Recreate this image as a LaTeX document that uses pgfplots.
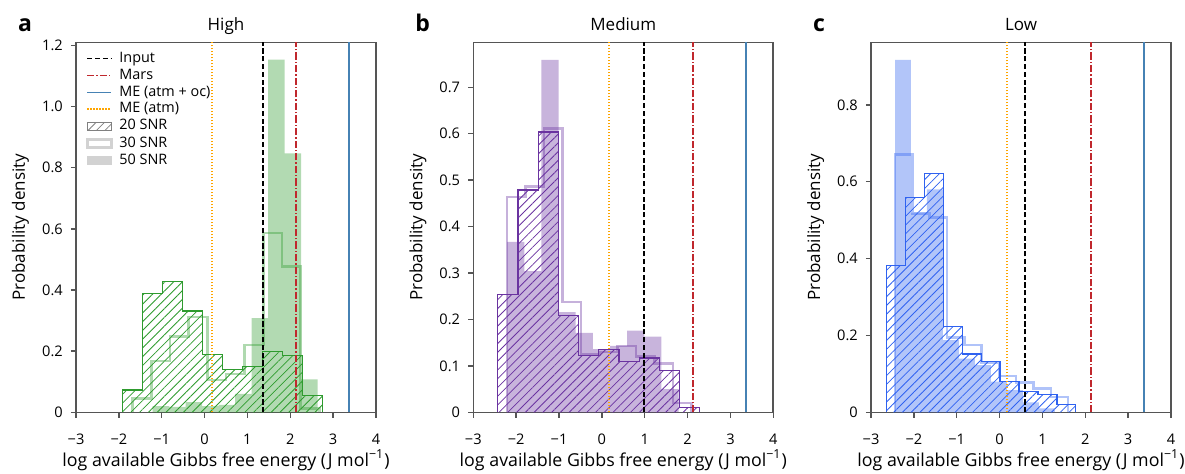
\documentclass[border=0pt]{standalone}
\usepackage{fontspec}
\setmainfont{Open Sans}
\usepackage{pgfplots}
\pgfplotsset{compat=1.18}
\usetikzlibrary{patterns.meta}

\definecolor{cgreen}{HTML}{2E9B2E}
\definecolor{cpurple}{HTML}{6A33A0}
\definecolor{cblue}{HTML}{2F62F0}
\definecolor{cmars}{HTML}{C0282D}
\definecolor{cmeoc}{HTML}{4682B4}
\definecolor{cmeatm}{HTML}{FFA500}
\definecolor{framec}{HTML}{555555}

\newcommand{\lblfont}{\fontsize{8.5}{9.5}\selectfont}
\newcommand{\xlblfont}{\fontsize{8.9}{9.5}\selectfont}
\newcommand{\tckfont}{\fontsize{7.3}{8.5}\selectfont}

\tikzset{
  vinput/.style={draw=black, line width=0.8pt, dash pattern=on 2.6pt off 1.3pt},
  vmars/.style={draw=cmars, line width=0.8pt, dash pattern=on 3.6pt off 1pt on 0.7pt off 1pt},
  vmeoc/.style={draw=cmeoc, line width=0.8pt},
  vmeatm/.style={draw=cmeatm, line width=0.9pt, dash pattern=on 0.75pt off 0.75pt},
}

\pgfplotsset{
  panel/.style={
    scale only axis, width=150pt, height=185pt,
    xmin=-3, xmax=4, ymin=0,
    xtick={-3,-2,-1,0,1,2,3,4},
    xticklabels={−3,−2,−1,0,1,2,3,4},
    axis line style={framec, line width=0.8pt},
    tick style={framec, line width=0.7pt},
    tick align=outside, xtick pos=left, ytick pos=left,
    major tick length=2.6pt,
    ticklabel style={font=\tckfont},
    xticklabel style={anchor=base, yshift=-13.6pt},
    yticklabel style={anchor=east, xshift=-0.5pt},
    xlabel={log available Gibbs free energy (J mol\textsuperscript{−1})},
    ylabel={Probability density},
    every axis x label/.style={at={(rel axis cs:0.5,0)}, anchor=base, yshift=-27pt, font=\xlblfont},
    every axis y label/.style={at={(rel axis cs:0,0.5)}, xshift=-25.5pt, rotate=90, anchor=base, font=\lblfont},
    every axis title/.style={at={(rel axis cs:0.5,1)}, anchor=base, yshift=6pt, font=\lblfont},
    clip=true, clip mode=individual,
  },
  h50/.style={const plot, draw=none, fill=#1, fill opacity=0.37, forget plot},
  h30/.style={const plot, draw=#1, draw opacity=0.38, line width=1.3pt, forget plot},
  h20/.style={const plot, draw=#1, line width=0.6pt,
    pattern={Lines[angle=45,distance=3.1pt,line width=0.4pt]}, pattern color=#1, forget plot},
}

\newcommand{\panelletter}[1]{\node[anchor=base west, font=\bfseries\fontsize{11.5}{12}\selectfont]
  at (rel axis cs:0,1) [xshift=-32.5pt, yshift=5.3pt] {#1};}

\begin{document}
\begin{tikzpicture}

% ---------------- a: High ----------------
\begin{axis}[panel, at={(0pt,0pt)}, ymax=1.21, title={High},
  ytick={0,0.2,0.4,0.6,0.8,1.0,1.2},
  yticklabels={0,0.2,0.4,0.6,0.8,1.0,1.2},
  legend style={at={(0.012,0.99)}, anchor=north west, draw=none, fill=none,
    font=\fontsize{7.2}{8}\selectfont, row sep=0.2pt,
    nodes={inner sep=0.8pt},
    /tikz/every odd column/.append style={column sep=2.6pt}},
  legend cell align=left,
]
\coordinate (oA) at (rel axis cs:0,0);
% 50 SNR
\addplot[h50=cgreen] coordinates {(-1.21,0) (-1.21,0.02) (-0.825,0.018) (-0.44,0.033) (-0.055,0.02) (0.33,0.024) (0.715,0.06) (1.10,0.308) (1.485,1.153) (1.87,0.847) (2.255,0.108) (2.64,0)};
% 30 SNR
\addplot[h30=cgreen] coordinates {(-1.68,0) (-1.68,0.045) (-1.244,0.168) (-0.808,0.248) (-0.372,0.312) (0.064,0.105) (0.50,0.125) (0.936,0.22) (1.372,0.586) (1.808,0.477) (2.244,0.012) (2.68,0)};
% 20 SNR
\addplot[h20=cgreen] coordinates {(-1.91,0) (-1.91,0.073) (-1.444,0.389) (-0.978,0.427) (-0.512,0.331) (-0.046,0.19) (0.42,0.141) (0.886,0.149) (1.352,0.198) (1.818,0.186) (2.284,0.055) (2.75,0)};
\addplot[vmeatm, forget plot] coordinates {(0.175,0) (0.175,2)};
\addplot[vinput, forget plot] coordinates {(1.37,0) (1.37,2)};
\addplot[vmars, forget plot] coordinates {(2.13,0) (2.13,2)};
\addplot[vmeoc, forget plot] coordinates {(3.365,0) (3.365,2)};
\addlegendimage{legend image code/.code={\draw[vinput] (0pt,0pt) -- (12pt,0pt);}}
\addlegendentry{Input}
\addlegendimage{legend image code/.code={\draw[vmars] (0pt,0pt) -- (12pt,0pt);}}
\addlegendentry{Mars}
\addlegendimage{legend image code/.code={\draw[vmeoc] (0pt,0pt) -- (12pt,0pt);}}
\addlegendentry{ME (atm + oc)}
\addlegendimage{legend image code/.code={\draw[vmeatm] (0pt,0pt) -- (12pt,0pt);}}
\addlegendentry{ME (atm)}
\addlegendimage{legend image code/.code={\draw[gray, line width=0.5pt, pattern={Lines[angle=45,distance=3pt,line width=0.4pt]}, pattern color=gray] (0pt,-2pt) rectangle (12pt,2pt);}}
\addlegendentry{20 SNR}
\addlegendimage{legend image code/.code={\draw[gray!35, line width=1.3pt] (0pt,-2pt) rectangle (12pt,2pt);}}
\addlegendentry{30 SNR}
\addlegendimage{legend image code/.code={\fill[gray!35] (0pt,-2.2pt) rectangle (12pt,2.2pt);}}
\addlegendentry{50 SNR}
\panelletter{a}
\end{axis}

% ---------------- b: Medium ----------------
\begin{axis}[panel, at={(198.65pt,0pt)}, ymax=0.797, title={Medium},
  ytick={0,0.1,0.2,0.3,0.4,0.5,0.6,0.7},
  yticklabels={0,0.1,0.2,0.3,0.4,0.5,0.6,0.7},
]
\addplot[h50=cpurple] coordinates {(-2.21,0) (-2.21,0.367) (-1.81,0.304) (-1.41,0.759) (-1.01,0.216) (-0.61,0.171) (-0.21,0.136) (0.19,0.143) (0.59,0.176) (0.99,0.163) (1.39,0.05) (1.79,0)};
\addplot[h30=cpurple] coordinates {(-2.21,0) (-2.21,0.464) (-1.78,0.486) (-1.35,0.611) (-0.92,0.238) (-0.49,0.125) (-0.06,0.13) (0.37,0.143) (0.80,0.12) (1.23,0.105) (1.66,0.02) (2.09,0)};
\addplot[h20=cpurple] coordinates {(-2.43,0) (-2.43,0.254) (-1.958,0.479) (-1.487,0.604) (-1.015,0.208) (-0.544,0.122) (-0.072,0.135) (0.40,0.109) (0.871,0.117) (1.343,0.09) (1.814,0.011) (2.286,0)};
\addplot[vmeatm, forget plot] coordinates {(0.175,0) (0.175,2)};
\addplot[vinput, forget plot] coordinates {(0.99,0) (0.99,2)};
\addplot[vmars, forget plot] coordinates {(2.13,0) (2.13,2)};
\addplot[vmeoc, forget plot] coordinates {(3.365,0) (3.365,2)};
\panelletter{b}
\end{axis}

% ---------------- c: Low ----------------
\begin{axis}[panel, at={(397.5pt,0pt)}, ymax=0.963, title={Low},
  ytick={0,0.2,0.4,0.6,0.8},
  yticklabels={0,0.2,0.4,0.6,0.8},
]
\addplot[h50=cblue] coordinates {(-2.44,0) (-2.44,0.917) (-2.067,0.52) (-1.694,0.58) (-1.321,0.188) (-0.948,0.14) (-0.575,0.123) (-0.202,0.08) (0.171,0.058) (0.544,0.026) (0.917,0.01) (1.29,0)};
\addplot[h30=cblue] coordinates {(-2.44,0) (-2.44,0.671) (-2.036,0.518) (-1.632,0.507) (-1.228,0.195) (-0.824,0.175) (-0.42,0.13) (-0.016,0.095) (0.388,0.078) (0.792,0.062) (1.196,0.04) (1.60,0)};
\addplot[h20=cblue] coordinates {(-2.64,0) (-2.64,0.383) (-2.198,0.56) (-1.756,0.621) (-1.314,0.224) (-0.872,0.152) (-0.43,0.132) (0.012,0.08) (0.454,0.054) (0.896,0.047) (1.338,0.021) (1.78,0)};
\addplot[vmeatm, forget plot] coordinates {(0.175,0) (0.175,2)};
\addplot[vinput, forget plot] coordinates {(0.59,0) (0.59,2)};
\addplot[vmars, forget plot] coordinates {(2.13,0) (2.13,2)};
\addplot[vmeoc, forget plot] coordinates {(3.365,0) (3.365,2)};
\panelletter{c}
\end{axis}

\pgfresetboundingbox
\path (oA) ++(-38pt,-30.35pt) rectangle ++(592.5pt,236.5pt);
\end{tikzpicture}
\end{document}
